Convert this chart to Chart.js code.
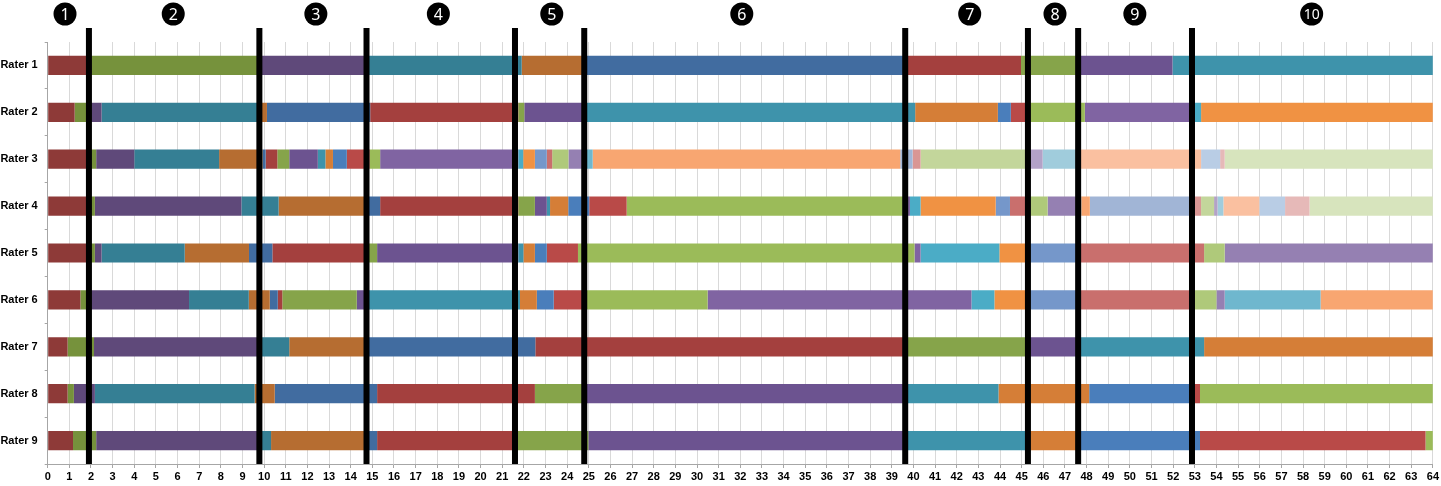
<!DOCTYPE html>
<html>
<head>
<meta charset="utf-8">
<script src="https://cdn.jsdelivr.net/npm/chart.js@4"></script>
<style>
  body { margin: 0; background: #fff; }
</style>
</head>
<body>
<canvas id="chart" width="1441" height="486"></canvas>
<script>
// Raters (categories)
const raters = ['Rater 1', 'Rater 2', 'Rater 3', 'Rater 4', 'Rater 5', 'Rater 6', 'Rater 7', 'Rater 8', 'Rater 9'];

// Segment end points for each rater (cumulative, in x units)
const rater1Ends = [1.88, 9.75, 14.7, 21.9, 24.85, 39.6, 44.97, 47.6, 51.97, 64];
const rater2Ends = [1.245, 1.85, 2.49, 9.75, 10.13, 14.9, 21.74, 22.02, 24.8, 40.08, 43.9, 44.5, 45.25, 47.92, 53.0, 53.29, 64];
const rater3Ends = [1.95, 2.24, 4.0, 7.92, 9.92, 10.07, 10.61, 11.16, 12.48, 12.83, 13.18, 13.82, 14.87, 15.36, 21.74, 21.97,
  22.51, 23.06, 23.31, 24.06, 24.9, 25.18, 39.39, 39.96, 40.33, 45.35, 45.97, 47.6, 53.29, 54.17, 54.38, 64];
const rater4Ends = [1.95, 2.18, 8.95, 10.67, 14.75, 15.36, 21.74, 22.51, 23.06, 23.21, 24.05, 25.02, 26.75, 39.75, 39.84, 40.33,
  43.8, 44.46, 45.3, 46.2, 47.65, 47.75, 48.15, 53.0, 53.29, 53.89, 54.05, 54.32, 55.98, 57.17, 58.3, 64];
const rater5Ends = [1.95, 2.18, 2.49, 6.33, 9.3, 10.38, 14.75, 15.22, 21.74, 21.98, 22.51, 23.06, 24.5, 40.05, 40.33, 43.97,
  45.25, 47.65, 53.43, 54.38, 64];
const rater6Ends = [1.51, 2.0, 6.53, 9.29, 10.26, 10.63, 10.84, 14.28, 14.75, 21.82, 22.6, 23.38, 24.8, 30.49, 42.68, 43.74,
  45.25, 47.65, 53.0, 54.0, 54.38, 58.81, 64];
const rater7Ends = [0.92, 2.14, 9.85, 11.16, 14.75, 22.53, 39.65, 45.25, 47.65, 53.43, 64];
const rater8Ends = [0.92, 1.21, 2.18, 9.56, 10.49, 15.22, 22.51, 24.8, 39.65, 43.93, 48.12, 53.0, 53.24, 64];
const rater9Ends = [1.17, 2.24, 9.85, 10.32, 14.75, 15.22, 21.7, 24.98, 39.65, 45.25, 47.65, 53.24, 63.66, 64];

// Phase dividers and phase label positions
const dividers = [1.905, 9.78, 14.73, 21.59, 24.79, 39.62, 45.29, 47.61, 52.87];
const phaseLabels = ['1', '2', '3', '4', '5', '6', '7', '8', '9', '10'];
const phaseLabelAt = [0.8, 5.8, 12.39, 18.05, 23.29, 32.07, 42.6, 46.54, 50.23, 58.4];

// Colour shades per hue, darkest first
const reds    = ['#8E3A38', '#A4403E', '#B94A48', '#C96F6D', '#D99694', '#E6B9B8'];
const greens  = ['#76923C', '#86A44A', '#9BBB59', '#AFC97A', '#C3D69B', '#D7E4BD'];
const purples = ['#5F497A', '#6C5390', '#8064A2', '#9580B2', '#B3A2C7', '#CCC1DA'];
const teals   = ['#357F94', '#3E93AB', '#4BACC6', '#6FB7CE', '#A0CCDC', '#B7DEE8'];
const oranges = ['#B66D31', '#D57E37', '#F09243', '#F8A671', '#FAC0A0', '#FCD5B5'];
const blues   = ['#416CA0', '#4A7EBB', '#7597CA', '#A1B5D6', '#B9CDE5', '#DCE6F2'];
const hues = [reds, greens, purples, teals, oranges, blues];

const allEnds = [rater1Ends, rater2Ends, rater3Ends, rater4Ends, rater5Ends, rater6Ends, rater7Ends, rater8Ends, rater9Ends];
const seriesCount = Math.max(...allEnds.map(e => e.length));

// one stacked dataset per segment index
const datasets = [];
for (let k = 0; k < seriesCount; k++) {
  datasets.push({
    label: 'Segment ' + (k + 1),
    data: allEnds.map(ends => k < ends.length ? ends[k] - (k > 0 ? ends[k - 1] : 0) : null),
    backgroundColor: hues[k % 6][Math.floor(k / 6)],
    borderWidth: 0,
    barPercentage: 0.41,
    categoryPercentage: 1.0
  });
}

// Draw the black phase lines and circled numbers
const phasePlugin = {
  id: 'phases',
  afterDatasetsDraw(chart) {
    const ctx = chart.ctx;
    const x = chart.scales.x;
    const bottom = chart.chartArea.bottom;
    ctx.save();
    ctx.fillStyle = '#000';
    dividers.forEach(v => {
      const px = x.getPixelForValue(v);
      ctx.fillRect(px - 3, 28, 6, bottom - 28);
    });
    phaseLabelAt.forEach((v, i) => {
      const px = x.getPixelForValue(v);
      ctx.fillStyle = '#000';
      ctx.beginPath();
      ctx.arc(px, 14, 11.5, 0, Math.PI * 2);
      ctx.fill();
      ctx.fillStyle = '#fff';
      ctx.font = (phaseLabels[i].length > 1 ? '14px' : '16px') + ' "Noto Sans", sans-serif';
      ctx.textAlign = 'center';
      ctx.textBaseline = 'middle';
      ctx.fillText(phaseLabels[i], px, 15);
    });
    ctx.restore();
  }
};

const tickFont = { family: '"Liberation Sans", Arial, sans-serif', size: 11, weight: 'bold' };

new Chart(document.getElementById('chart'), {
  type: 'bar',
  data: { labels: raters, datasets: datasets },
  options: {
    indexAxis: 'y',
    responsive: false,
    animation: false,
    devicePixelRatio: 1,
    layout: { padding: { top: 42, right: 6, left: 0, bottom: 0 } },
    plugins: {
      legend: { display: false },
      tooltip: { enabled: false }
    },
    scales: {
      x: {
        stacked: true,
        min: 0,
        max: 64,
        ticks: { stepSize: 1, autoSkip: false, maxRotation: 0, color: '#000', font: tickFont, padding: 2 },
        grid: { color: '#D9D9D9', tickColor: '#A6A6A6', tickLength: 4 },
        border: { color: '#A6A6A6' },
        afterFit(scale) { scale.height = 22; }
      },
      y: {
        stacked: true,
        ticks: { color: '#000', font: tickFont, padding: 7 },
        grid: { drawOnChartArea: false, tickLength: 3, color: '#A6A6A6' },
        border: { color: '#A6A6A6' },
        afterFit(scale) { scale.width = 47.7; }
      }
    }
  },
  plugins: [phasePlugin]
});
</script>
</body>
</html>
